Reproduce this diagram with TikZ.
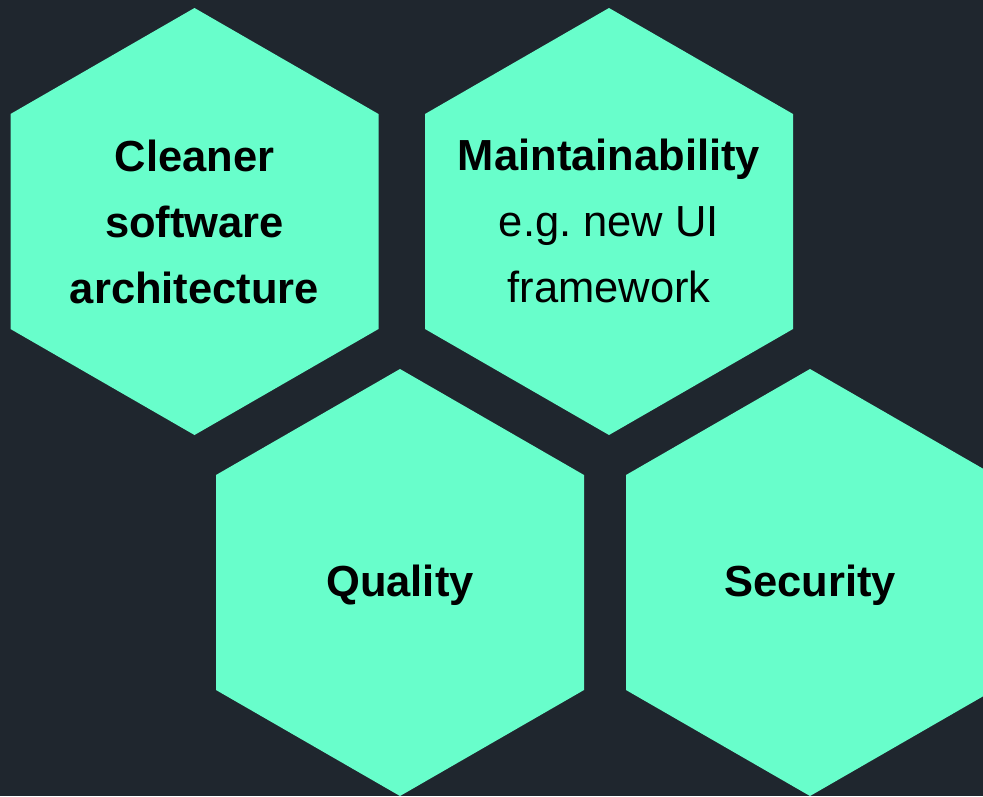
\documentclass[tikz,border=0pt]{standalone}
\usepackage{fontspec}
\setmainfont{Liberation Sans}
\definecolor{bgc}{HTML}{1F262E}
\definecolor{hexc}{HTML}{68FECB}
\tikzset{
  hexfill/.style={fill=hexc, draw=none},
  label/.style={text=black, align=center, font=\fontsize{43.5}{66}\selectfont, inner sep=0pt}
}
\newcommand{\hexat}[2]{%
  \fill[hexfill] (#1,#2-213.5) -- (#1+184,#2-107.5) -- (#1+184,#2+107.5) -- (#1,#2+213.5) -- (#1-184,#2+107.5) -- (#1-184,#2-107.5) -- cycle;}
\begin{document}
\frenchspacing
\begin{tikzpicture}[x=1pt,y=-1pt]
\useasboundingbox (0,0) rectangle (983,796);
\fill[bgc] (0,0) rectangle (983,796);
\begin{scope}
\clip (0,0) rectangle (983,796);
\hexat{194.5}{221.5}
\hexat{609}{221.5}
\hexat{400}{582.5}
\hexat{810}{582.5}
\end{scope}
\node[label] (h1) at (194.5,222) {\bfseries Cleaner\\\bfseries software\\\bfseries architecture};
\node[label] (h2) at (609,221) {\bfseries Maintainability\\e.g.\ new UI\\framework};
\node[label] (h3) at (400,585) {\bfseries Quality};
\node[label] (h4) at (810,585) {\bfseries Security};
\end{tikzpicture}
\end{document}
